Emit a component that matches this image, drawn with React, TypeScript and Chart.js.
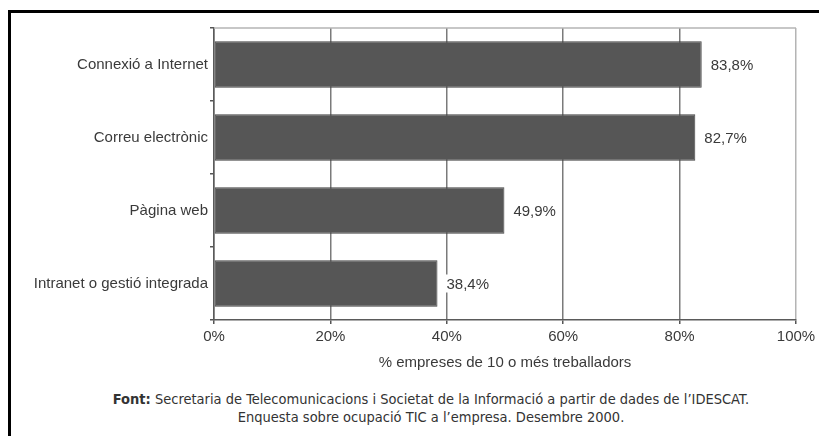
import React, { useEffect, useRef } from "react";
import { Chart, registerables } from "chart.js";

Chart.register(...registerables);

const categories = [
  "Connexió a Internet",
  "Correu electrònic",
  "Pàgina web",
  "Intranet o gestió integrada",
];
const values = [83.8, 82.7, 49.9, 38.4];
const tickValues = [0, 20, 40, 60, 80, 100];
const axisTitle = "% empreses de 10 o més treballadors";
const sourceLabel = "Font:";
const sourceLine1 =
  " Secretaria de Telecomunicacions i Societat de la Informació a partir de dades de l’IDESCAT.";
const sourceLine2 = "Enquesta sobre ocupació TIC a l’empresa. Desembre 2000.";

const TEXT = "#3a3a3a";
const FONT = "'Liberation Sans', Arial, sans-serif";

const fmt = (v: number) => v.toFixed(1).replace(".", ",") + "%";

const valueLabels = {
  id: "valueLabels",
  afterDatasetsDraw(chart: any) {
    const ctx = chart.ctx;
    const meta = chart.getDatasetMeta(0);
    ctx.save();
    ctx.font = `15px ${FONT}`;
    ctx.textAlign = "left";
    ctx.textBaseline = "middle";
    meta.data.forEach((bar: any, i: number) => {
      const txt = fmt(values[i]);
      const w = ctx.measureText(txt).width;
      const x = bar.x + 9;
      ctx.fillStyle = "#ffffff";
      ctx.fillRect(x - 2, bar.y - 9, w + 4, 18);
      ctx.fillStyle = TEXT;
      ctx.fillText(txt, x, bar.y + 1);
    });
    ctx.restore();
  },
};

const topBorder = {
  id: "topBorder",
  afterDraw(chart: any) {
    const { ctx, chartArea } = chart;
    ctx.save();
    ctx.strokeStyle = "#b4b4b4";
    ctx.lineWidth = 1.5;
    ctx.beginPath();
    ctx.moveTo(chartArea.left, chartArea.top);
    ctx.lineTo(chartArea.right, chartArea.top);
    ctx.stroke();
    ctx.restore();
  },
};

export default function App() {
  const ref = useRef<HTMLCanvasElement>(null);

  useEffect(() => {
    if (!ref.current) return;
    const chart = new Chart(ref.current, {
      type: "bar",
      data: {
        labels: categories,
        datasets: [
          {
            data: values,
            backgroundColor: "#565656",
            borderColor: "#434343",
            borderWidth: 1,
            borderSkipped: false,
            categoryPercentage: 1,
            barPercentage: 0.64,
          },
        ],
      },
      options: {
        indexAxis: "y",
        animation: false,
        responsive: false,
        maintainAspectRatio: false,
        layout: { padding: { left: 0, right: 31, top: 20, bottom: 0 } },
        plugins: {
          legend: { display: false },
          tooltip: { enabled: false },
          title: { display: false },
        },
        scales: {
          x: {
            type: "linear",
            min: 0,
            max: 100,
            afterFit: (s: any) => {
              s.height = 60;
            },
            afterBuildTicks: (s: any) => {
              s.ticks = tickValues.map((v) => ({ value: v }));
            },
            ticks: {
              color: TEXT,
              font: { family: FONT, size: 15 },
              padding: 4,
              maxRotation: 0,
              callback: (v: any) => v + "%",
            },
            grid: {
              color: (c: any) => (c.index === tickValues.length - 1 ? "#b4b4b4" : "#7a7a7a"),
              lineWidth: 1.5,
              tickColor: "#555555",
              tickLength: 4,
              drawTicks: true,
            },
            border: { display: true, color: "#5a5a5a", width: 1.5 },
            title: {
              display: true,
              text: axisTitle,
              color: TEXT,
              font: { family: FONT, size: 15 },
              padding: { top: 0, bottom: 8 },
            },
          },
          y: {
            type: "category",
            offset: true,
            afterFit: (s: any) => {
              s.width = 206;
            },
            ticks: {
              color: TEXT,
              font: { family: FONT, size: 15 },
              padding: 2,
            },
            grid: {
              offset: true,
              drawOnChartArea: false,
              drawTicks: true,
              tickLength: 4,
              tickColor: "#555555",
              lineWidth: 1.5,
            },
            border: { display: true, color: "#5a5a5a", width: 1.5 },
          },
        },
      },
      plugins: [valueLabels, topBorder],
    });
    return () => chart.destroy();
  }, []);

  return (
    <div style={{ position: "relative", width: 819, height: 428, overflow: "hidden" }}>
      <div
        style={{
          position: "absolute",
          left: 0,
          top: 2,
          width: 840,
          height: 440,
          borderLeft: "3px solid #000",
          borderTop: "3px solid #000",
        }}
      />
      <div style={{ position: "absolute", left: 0, top: 0, width: 819, height: 372 }}>
        <canvas ref={ref} width={819} height={372} style={{ width: 819, height: 372 }} />
      </div>
      <div
        style={{
          position: "absolute",
          left: 23,
          top: 382,
          width: 800,
          textAlign: "center",
          fontFamily: "'Liberation Sans Narrow', 'DejaVu Sans Condensed', 'Liberation Sans', sans-serif",
          fontStretch: "condensed",
          fontSize: 14.5,
          lineHeight: "18px",
          color: "#333",
        }}
      >
        <div>
          <b>{sourceLabel}</b>
          {sourceLine1}
        </div>
        <div>{sourceLine2}</div>
      </div>
    </div>
  );
}
